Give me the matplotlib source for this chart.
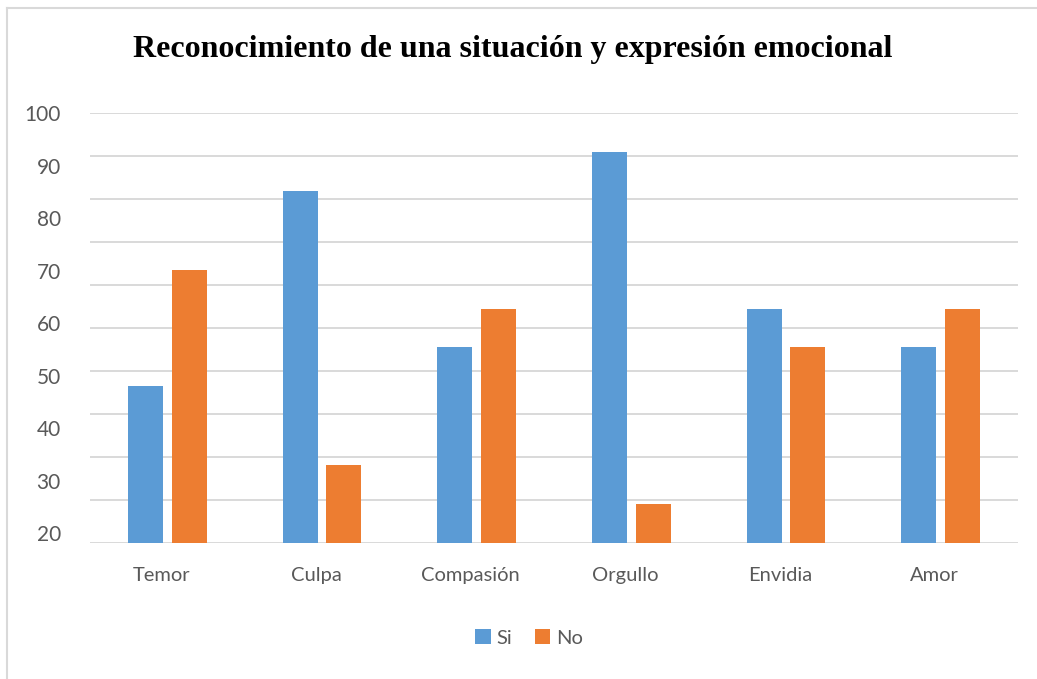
import matplotlib
matplotlib.use("Agg")
import matplotlib.pyplot as plt
import matplotlib.transforms as mtransforms
import numpy as np
from matplotlib.patches import Patch
from matplotlib.lines import Line2D

categories = ["Temor", "Culpa", "Compasión", "Orgullo", "Envidia", "Amor"]
si_values = [36.4, 81.8, 45.5, 90.9, 54.5, 45.5]
no_values = [63.6, 18.2, 54.5, 9.1, 45.5, 54.5]
ytick_labels = ["100", "90", "80", "70", "60", "50", "40", "30", "20"]
series_names = ["Si", "No"]
title = "Reconocimiento de una situación y expresión emocional"

W, H = 1037, 679
fig = plt.figure(figsize=(W / 100, H / 100), dpi=100)
fig.patch.set_facecolor("white")

ax = fig.add_axes([90 / W, 1 - 543 / H, (1018 - 90) / W, (543 - 113) / H])
x = np.arange(len(categories))
bw = 0.226
off = 0.142
blue = "#5B9BD5"
orange = "#ED7D31"
ax.bar(x - off, si_values, width=bw, color=blue, zorder=3)
ax.bar(x + off, no_values, width=bw, color=orange, zorder=3)

ax.set_xlim(-0.5, len(categories) - 0.5)
ax.set_ylim(0, 100)

for g in np.arange(0, 101, 10):
    ax.axhline(g, color="#d9d9d9", lw=1.4, zorder=1)

for s in ax.spines.values():
    s.set_visible(False)

txt = "#595959"
font = "Lato"
ax.set_xticks(x)
ax.set_xticklabels(categories, fontsize=14.5, color=txt, family=font)
ax.tick_params(axis="x", length=0, pad=17)
shift = mtransforms.ScaledTranslation(-6 / 100, 0, fig.dpi_scale_trans)
for lab in ax.get_xticklabels():
    lab.set_transform(lab.get_transform() + shift)

ypos = np.linspace(100, 2.3, len(ytick_labels))
ax.set_yticks(ypos)
ax.set_yticklabels(ytick_labels, fontsize=15, color=txt, family=font)
ax.tick_params(axis="y", length=0, pad=21)

fig.text(513 / W, 1 - 50 / H, title, ha="center", va="center",
         fontsize=23, fontweight="bold", family="Liberation Serif", color="black")

handles = [Patch(facecolor=blue, edgecolor="none"), Patch(facecolor=orange, edgecolor="none")]
leg = fig.legend(handles, series_names, loc="center", bbox_to_anchor=(529 / W, 1 - 638 / H),
                 ncol=2, frameon=False, handlelength=0.75, handleheight=0.75,
                 handletextpad=0.3, columnspacing=1.1,
                 prop={"family": font, "size": 14.5})
for t in leg.get_texts():
    t.set_color(txt)

# outer border (top and left)
fig.add_artist(Line2D([7 / W, 7 / W], [0, 1 - 8 / H], transform=fig.transFigure, color="#d9d9d9", lw=1.5))
fig.add_artist(Line2D([7 / W, 1], [1 - 8 / H, 1 - 8 / H], transform=fig.transFigure, color="#d9d9d9", lw=1.5))

fig.savefig("out.png", dpi=100, facecolor="white")
